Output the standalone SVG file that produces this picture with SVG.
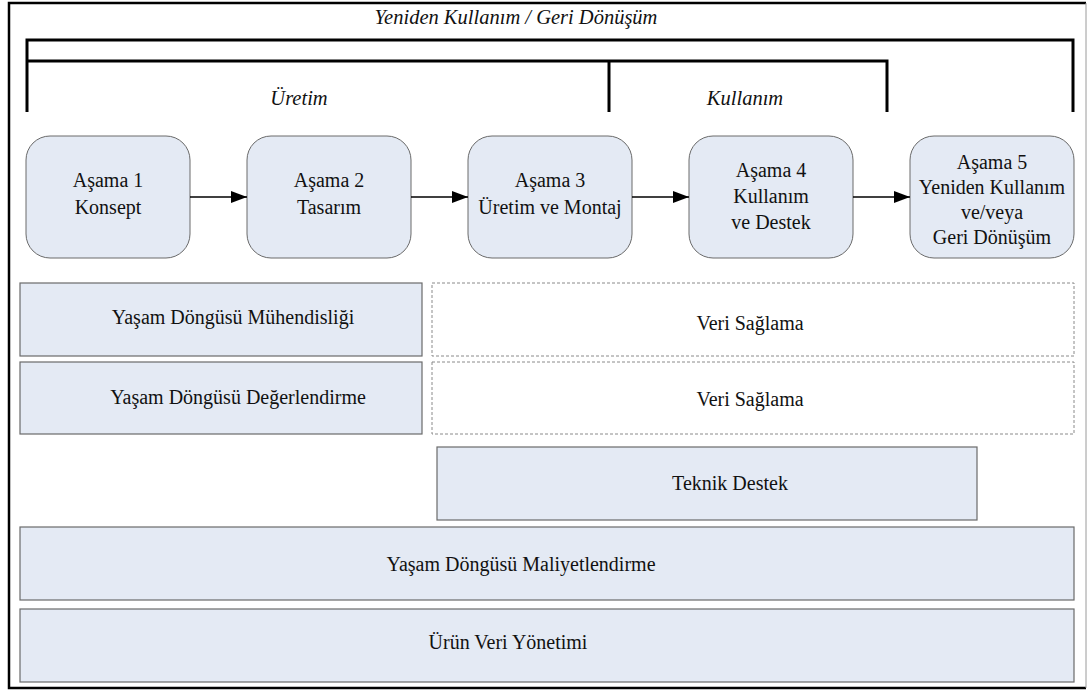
<svg xmlns="http://www.w3.org/2000/svg" width="1088" height="690" viewBox="0 0 1088 690">
  <style>
    text { font-family: "Liberation Serif", "Times New Roman", Times, Tinos, "Noto Serif", "DejaVu Serif", FreeSerif, serif; fill: #111; text-anchor: middle; }
    .lbl { font-size: 20px; }
    .ital { font-size: 20.5px; font-style: italic; }
    .stage { fill: #E4EAF4; stroke: #6a6a6a; stroke-width: 1; }
    .band { fill: #E4EAF4; stroke: #6a6a6a; stroke-width: 1.2; }
    .dash { fill: #ffffff; stroke: #8a8a8a; stroke-width: 1; stroke-dasharray: 3 2; }
    .bracket { fill: none; stroke: #000; stroke-width: 3; }
    .conn { stroke: #000; stroke-width: 1.5; fill: none; }
  </style>
  <defs>
    <marker id="arrow" markerWidth="16" markerHeight="12" refX="16" refY="6" orient="auto" markerUnits="userSpaceOnUse">
      <path d="M0,0 L16,6 L0,12 Z" fill="#000"/>
    </marker>
  </defs>

  <rect width="1088" height="690" fill="#ffffff"/>

  <!-- outer frame -->
  <path d="M1086,3 L9,3 L9,688 L1086,688" fill="none" stroke="#000" stroke-width="2.5"/>
  <line x1="1086" y1="3" x2="1086" y2="688" stroke="#9a9a9a" stroke-width="1"/>

  <!-- phase brackets -->
  <g id="brackets">
    <path class="bracket" d="M27,112 L27,40 L1073,40 L1073,112"/>
    <path class="bracket" d="M27,61 L887,61 L887,112"/>
    <line class="bracket" x1="609" y1="61" x2="609" y2="112"/>
    <text class="ital" x="516" y="24">Yeniden Kullanım / Geri Dönüşüm</text>
    <text class="ital" x="299" y="105">Üretim</text>
    <text class="ital" x="745" y="105">Kullanım</text>
  </g>

  <!-- stages -->
  <g id="stage1">
    <rect class="stage" x="26" y="136" width="164" height="122" rx="24"/>
    <text class="lbl" x="108" y="187">Aşama 1</text>
    <text class="lbl" x="108" y="214">Konsept</text>
  </g>
  <g id="stage2">
    <rect class="stage" x="247" y="136" width="164" height="122" rx="24"/>
    <text class="lbl" x="329" y="187">Aşama 2</text>
    <text class="lbl" x="329" y="214">Tasarım</text>
  </g>
  <g id="stage3">
    <rect class="stage" x="468" y="136" width="164" height="122" rx="24"/>
    <text class="lbl" x="550" y="187">Aşama 3</text>
    <text class="lbl" x="550" y="214">Üretim ve Montaj</text>
  </g>
  <g id="stage4">
    <rect class="stage" x="689" y="136" width="164" height="122" rx="24"/>
    <text class="lbl" x="771" y="177">Aşama 4</text>
    <text class="lbl" x="771" y="203">Kullanım</text>
    <text class="lbl" x="771" y="229">ve Destek</text>
  </g>
  <g id="stage5">
    <rect class="stage" x="910" y="136" width="164" height="122" rx="24"/>
    <text class="lbl" x="992" y="169">Aşama 5</text>
    <text class="lbl" x="992" y="194">Yeniden Kullanım</text>
    <text class="lbl" x="992" y="219">ve/veya</text>
    <text class="lbl" x="992" y="244">Geri Dönüşüm</text>
  </g>

  <!-- connectors -->
  <g id="connectors">
    <line class="conn" x1="190" y1="197" x2="247" y2="197" marker-end="url(#arrow)"/>
    <line class="conn" x1="411" y1="197" x2="468" y2="197" marker-end="url(#arrow)"/>
    <line class="conn" x1="632" y1="197" x2="689" y2="197" marker-end="url(#arrow)"/>
    <line class="conn" x1="853" y1="197" x2="910" y2="197" marker-end="url(#arrow)"/>
  </g>

  <!-- activity bands -->
  <g id="lc-engineering">
    <rect class="band" x="20" y="283" width="402" height="73"/>
    <text class="lbl" x="233" y="324">Yaşam Döngüsü Mühendisliği</text>
  </g>
  <g id="data-supply-1">
    <rect class="dash" x="432" y="283" width="642" height="73"/>
    <text class="lbl" x="750" y="330">Veri Sağlama</text>
  </g>
  <g id="lc-assessment">
    <rect class="band" x="20" y="362" width="402" height="72"/>
    <text class="lbl" x="238" y="404">Yaşam Döngüsü Değerlendirme</text>
  </g>
  <g id="data-supply-2">
    <rect class="dash" x="432" y="362" width="642" height="72"/>
    <text class="lbl" x="750" y="406">Veri Sağlama</text>
  </g>
  <g id="tech-support">
    <rect class="band" x="437" y="447" width="540" height="73"/>
    <text class="lbl" x="730" y="490">Teknik Destek</text>
  </g>
  <g id="lc-costing">
    <rect class="band" x="20" y="527" width="1054" height="73"/>
    <text class="lbl" x="521" y="571">Yaşam Döngüsü Maliyetlendirme</text>
  </g>
  <g id="pdm">
    <rect class="band" x="20" y="609" width="1054" height="73"/>
    <text class="lbl" x="508" y="649">Ürün Veri Yönetimi</text>
  </g>
</svg>
